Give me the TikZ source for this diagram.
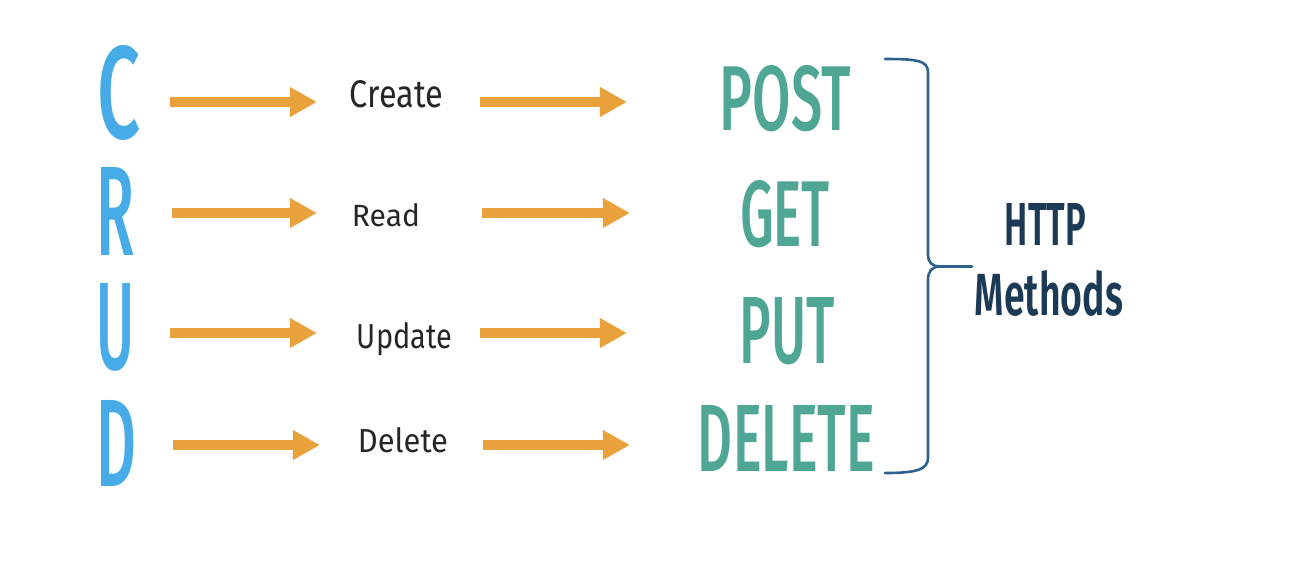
\documentclass[tikz,border=0pt]{standalone}
\usepackage{fontspec}
\setmainfont{Fira Sans}
\newfontfamily\firamed{Fira Sans Medium}
\newfontfamily\firasemi{Fira Sans SemiBold}
\usetikzlibrary{arrows.meta}
\definecolor{crudblue}{HTML}{47ABE8}
\definecolor{methteal}{HTML}{4FA694}
\definecolor{arrorange}{HTML}{E9A23B}
\definecolor{bracecol}{HTML}{2C6190}
\definecolor{labelgray}{HTML}{262626}
\definecolor{navy}{HTML}{1C3A55}
\newcommand{\rsz}[3]{\resizebox{#1pt}{#2pt}{#3}}
\begin{document}
\begin{tikzpicture}[x=1pt,y=-1pt,
  every node/.style={inner sep=0pt, outer sep=0pt, anchor=base},
  crud/.style={text=crudblue, font=\firamed},
  lab/.style={text=labelgray},
  meth/.style={text=methteal, font=\firamed},
  httpt/.style={text=navy, font=\firasemi},
  arr/.style={draw=arrorange, line width=10pt, -{Triangle[length=27pt,width=28pt]}},
  brace/.style={draw=bracecol, line width=2.6pt, line cap=round, line join=round}]
\useasboundingbox (0,0) rectangle (1298,565);
% row coordinates
\coordinate (r1) at (0,102);
\coordinate (r2) at (0,213);
\coordinate (r3) at (0,333);
\coordinate (r4) at (0,445);
% CRUD letters
\node[crud] (C) at (118.5,138) {\rsz{43}{93}{C}};
\node[crud] (R) at (116,255) {\rsz{38}{88}{R}};
\node[crud] (U) at (116,369) {\rsz{38}{86}{U}};
\node[crud] (D) at (117,486) {\rsz{40}{86}{D}};
% labels
\node[lab] (create) at (396.5,107) {\rsz{93}{27}{Create}};
\node[lab] (read) at (386,226) {\rsz{68}{23}{Read}};
\node[lab] (update) at (404.5,348) {\rsz{95}{26}{Update}};
\node[lab] (delete) at (403,452) {\rsz{90}{25}{Delete}};
% HTTP methods
\node[meth] (post) at (785.5,130) {\rsz{131}{65}{POST}};
\node[meth] (get) at (785,246) {\rsz{90}{66}{GET}};
\node[meth] (put) at (787.5,363) {\rsz{95}{66}{PUT}};
\node[meth] (del) at (786.5,471) {\rsz{177}{66}{DELETE}};
% HTTP Methods label
\node[httpt] (http) at (1045.5,245) {\rsz{81}{42}{HTTP}};
\node[httpt] (methods) at (1049,315) {\rsz{148}{45}{Methods}};
% arrows
\draw[arr, shorten <=30pt, shorten >=33pt] (C.east |- r1) -- (create.west |- r1);
\draw[arr, shorten <=37pt, shorten >=93pt] (create.east |- r1) -- (post.west |- r1);
\draw[arr, shorten <=37pt, shorten >=35pt] (R.east |- r2) -- (read.west |- r2);
\draw[arr, shorten <=62pt, shorten >=110pt] (read.east |- r2) -- (get.west |- r2);
\draw[arr, shorten <=35pt, shorten >=40pt] (U.east |- r3) -- (update.west |- r3);
\draw[arr, shorten <=28pt, shorten >=113pt] (update.east |- r3) -- (put.west |- r3);
\draw[arr, shorten <=36pt, shorten >=38pt] (D.east |- r4) -- (delete.west |- r4);
\draw[arr, shorten <=35pt, shorten >=68pt] (delete.east |- r4) -- (del.west |- r4);
% brace
\draw[brace] (885,59) .. controls (915,59) and (928,60) .. (928,72)
  -- (928,255) .. controls (928,262) and (932,266.5) .. (940,266.5) -- (972,266.5);
\draw[brace] (940,266.5) .. controls (932,266.5) and (928,271) .. (928,280)
  -- (928,458) .. controls (928,470) and (915,473) .. (885,473);
\end{tikzpicture}
\end{document}
